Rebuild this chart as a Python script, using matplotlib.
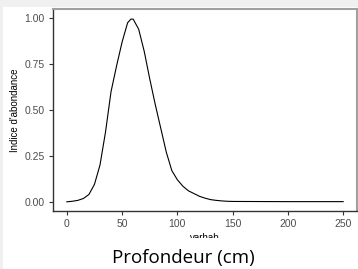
import matplotlib
matplotlib.use("Agg")
import matplotlib.pyplot as plt
from matplotlib.patches import Rectangle

depth = [0, 5, 10, 15, 20, 25, 30, 35, 40, 45, 50, 55, 58, 60, 65, 70, 75, 80, 85, 90,
         95, 100, 105, 110, 115, 120, 125, 130, 135, 140, 145, 150, 200, 250]
abundance = [0.000, 0.003, 0.008, 0.018, 0.040, 0.095, 0.20, 0.38, 0.60, 0.74, 0.87, 0.975,
             0.995, 0.995, 0.94, 0.82, 0.67, 0.53, 0.40, 0.27, 0.17, 0.12, 0.085, 0.06,
             0.045, 0.03, 0.02, 0.012, 0.008, 0.005, 0.003, 0.002, 0.001, 0.001]
xticks = [0, 50, 100, 150, 200, 250]
yticks = [0.00, 0.25, 0.50, 0.75, 1.00]
ytick_labels = ["0.00", "0.25", "0.50", "0.75", "1.00"]

W, H = 358, 269
fig = plt.figure(figsize=(W / 100, H / 100), dpi=100)
fig.patch.set_facecolor("white")

# screenshot bands
fig.add_artist(Rectangle((0, 1 - 7 / H), 1, 7 / H, transform=fig.transFigure,
                         facecolor="#f0f0f0", edgecolor="none", zorder=0))
fig.add_artist(Rectangle((0, 0), 3 / W, 1, transform=fig.transFigure,
                         facecolor="#f0f0f0", edgecolor="none", zorder=0))

ax = fig.add_axes([53 / W, (H - 211) / H, (357 - 53) / W, (211 - 9) / H])
ax.plot(depth, abundance, color="black", lw=0.8)
ax.set_xlim(-12.5, 262.5)
ax.set_ylim(-0.05, 1.05)
ax.set_xticks(xticks)
ax.set_xticklabels([str(v) for v in xticks])
ax.set_yticks(yticks)
ax.set_yticklabels(ytick_labels)
for s in ["left", "bottom"]:
    ax.spines[s].set_color("#333333")
    ax.spines[s].set_linewidth(1.0)
for s in ["top", "right"]:
    ax.spines[s].set_color("#a0a0a0")
    ax.spines[s].set_linewidth(1.5)
ax.tick_params(axis="both", length=3, width=0.8, color="#333333",
               labelcolor="#4d4d4d", labelsize=7.5, pad=3)
for lab in ax.get_xticklabels() + ax.get_yticklabels():
    lab.set_fontfamily("Liberation Sans")
ax.set_ylabel("Indice d'abondance", fontsize=7, family="Liberation Sans",
              labelpad=3)
ax.yaxis.set_label_coords(-33 / (357 - 53), 0.5)

fig.text(205 / W, 1 - 233 / H, "varhab", fontsize=7, family="Liberation Sans",
         ha="center", va="top", color="black")
fig.add_artist(Rectangle((3 / W, 0), 1, (H - 238) / H, transform=fig.transFigure,
                         facecolor="white", edgecolor="none", zorder=5))
fig.text(183 / W, 1 - 258 / H, "Profondeur (cm)", fontsize=13.5, family="Open Sans",
         ha="center", va="center", color="black", zorder=6)

fig.savefig("out.png", dpi=100)
